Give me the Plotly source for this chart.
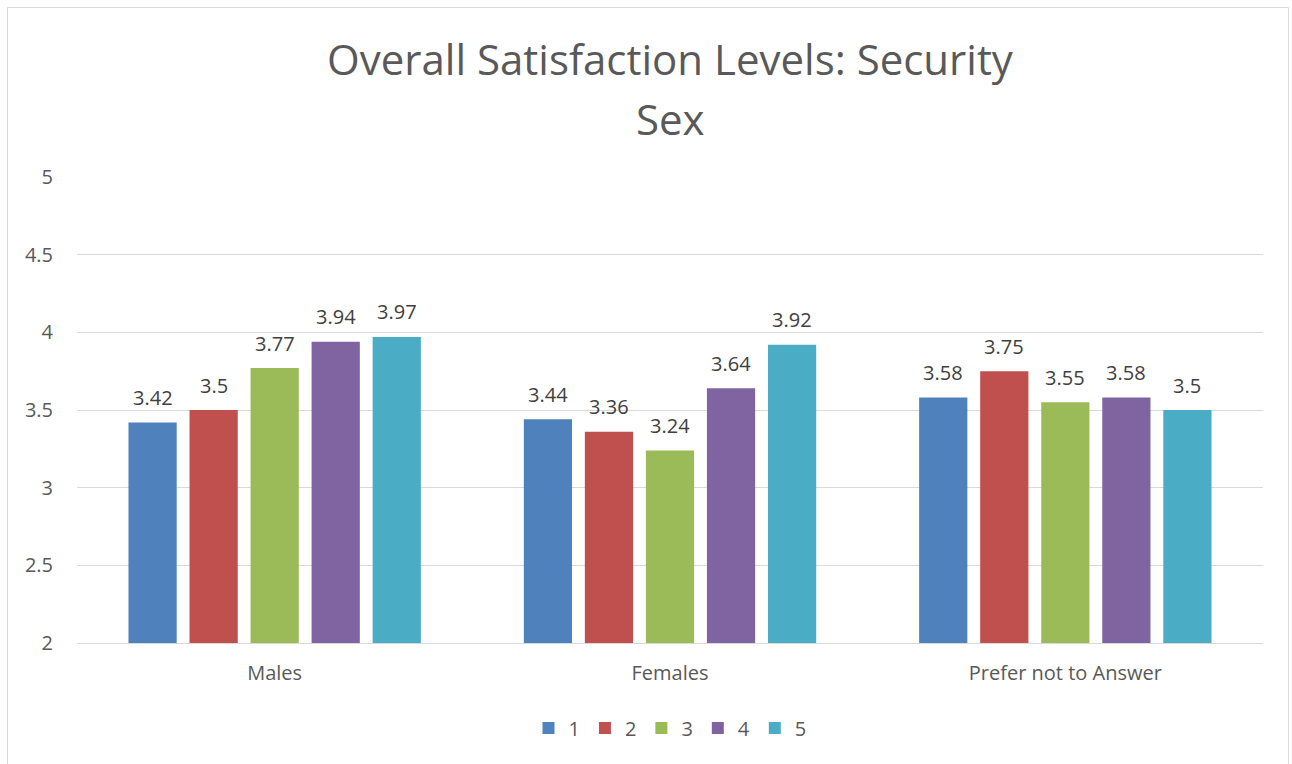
import plotly.graph_objects as go

categories = ["Males", "Females", "Prefer not to Answer"]
series_names = ["1", "2", "3", "4", "5"]
s1 = [3.42, 3.44, 3.58]
s2 = [3.50, 3.36, 3.75]
s3 = [3.77, 3.24, 3.55]
s4 = [3.94, 3.64, 3.58]
s5 = [3.97, 3.92, 3.50]
series_values = [s1, s2, s3, s4, s5]
colors = ["#4F81BD", "#C0504D", "#9BBB59", "#8064A2", "#4BACC6"]
y_ticks = [2, 2.5, 3, 3.5, 4, 4.5, 5]
y_tick_text = ["2", "2.5", "3", "3.5", "4", "4.5", "5"]

FONT = "Open Sans"
W, H = 1292, 764
L, T = 77, 177
R = W - 1263
B = H - 643
pw = W - L - R
ph = H - T - B
BARGAP = 0.228
GROUPGAP = 0.21

def px_x(x):
    return (x - L) / pw

def px_y(y):
    return (H - B - y) / ph

fig = go.Figure()
for name, vals, col in zip(series_names, series_values, colors):
    fig.add_trace(go.Bar(
        x=categories, y=vals, name=name,
        marker=dict(color=col, line=dict(width=0)),
        cliponaxis=False,
    ))

# data labels, placed above each bar at its value
slot = pw / len(categories) * (1 - BARGAP) / len(series_names)
n = len(series_names)
for i, vals in enumerate(series_values):
    for cat, v in zip(categories, vals):
        fig.add_annotation(x=cat, y=v, xref="x", yref="y", text=f"{v:g}",
                           showarrow=False, xanchor="center", yanchor="middle",
                           xshift=(i - (n - 1) / 2) * slot, yshift=25,
                           font=dict(family=FONT, size=20, color="#404040"))

fig.update_layout(
    width=W, height=H,
    margin=dict(l=L, r=R, t=T, b=B, pad=0),
    paper_bgcolor="white", plot_bgcolor="white",
    barmode="group", bargap=BARGAP, bargroupgap=GROUPGAP,
    font=dict(family=FONT, color="#595959"),
    showlegend=True,
    legend=dict(orientation="h", x=0.5, xanchor="center", y=px_y(728), yanchor="middle",
                font=dict(family=FONT, size=20, color="#595959"), itemwidth=30,
                traceorder="normal"),
)
fig.update_layout(
    title=dict(text="Overall Satisfaction Levels: Security", x=0.5, xanchor="center",
               xref="paper", y=1 - 60 / H, yanchor="middle", yref="container",
               font=dict(family=FONT, size=42, color="#595959")),
)
fig.add_annotation(text="Sex", x=0.5, xref="paper", y=px_y(118), yref="paper",
                   xanchor="center", yanchor="middle", showarrow=False,
                   font=dict(family=FONT, size=42, color="#595959"))

fig.update_yaxes(range=[2, 5], tickvals=y_ticks, ticktext=y_tick_text,
                 showgrid=True, gridcolor="#D9D9D9", gridwidth=1, zeroline=False,
                 showline=False, ticks="", ticklabelstandoff=23,
                 tickfont=dict(family=FONT, size=20, color="#595959"))
fig.update_xaxes(showgrid=False, showline=True, linecolor="#D9D9D9", linewidth=1,
                 ticks="", ticklabelstandoff=12,
                 tickfont=dict(family=FONT, size=20, color="#595959"))

fig.add_shape(type="rect", xref="paper", yref="paper",
              x0=px_x(7.5), x1=px_x(1288.5), y0=px_y(775), y1=px_y(7.5),
              line=dict(color="#D9D9D9", width=1), fillcolor="rgba(0,0,0,0)", layer="below")

fig.write_html("out.html", config={"displayModeBar": False},
               post_script="document.body.style.margin='0';document.body.style.overflow='hidden';")
